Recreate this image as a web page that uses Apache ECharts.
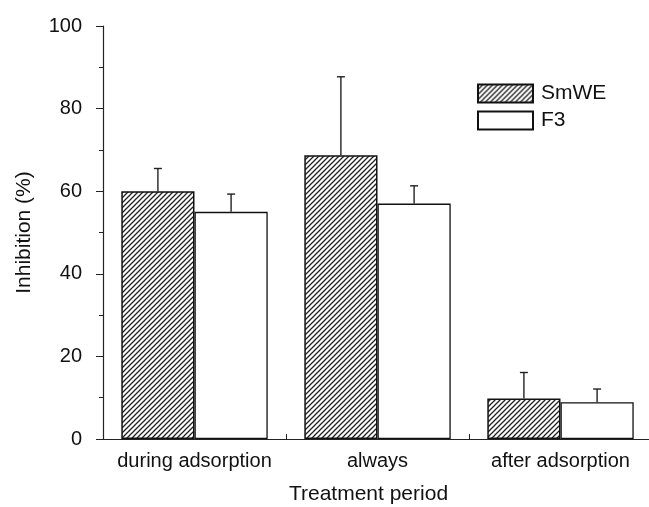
<!DOCTYPE html>
<html>
<head>
<meta charset="utf-8">
<script src="https://cdn.jsdelivr.net/npm/echarts@6/dist/echarts.min.js"></script>
<style>html,body{margin:0;padding:0;background:#fff}#c{width:649px;height:507px}</style>
</head>
<body>
<div id="c"></div>
<script>
var categories = ['during adsorption', 'always', 'after adsorption'];
var smweValues = [60, 68.7, 9.8];
var smweErrors = [5.5, 19, 6.3];
var f3Values = [55, 57, 8.9];
var f3Errors = [4.3, 4.3, 3.2];
var yTicks = [0, 20, 40, 60, 80, 100];

var pc = document.createElement('canvas');
pc.width = 5; pc.height = 5;
var g = pc.getContext('2d');
g.fillStyle = '#fff'; g.fillRect(0, 0, 5, 5);
g.strokeStyle = '#222'; g.lineWidth = 1.3;
g.beginPath();
g.moveTo(-1, 6); g.lineTo(6, -1);
g.moveTo(-1, 1); g.lineTo(1, -1);
g.moveTo(4, 6); g.lineTo(6, 4);
g.stroke();

var FONT = 'Liberation Sans, Arial, Helvetica, sans-serif';

function errSeries(vals, errs, sign) {
  return {
    type: 'custom',
    data: vals.map(function (v, i) { return [i, v, v + errs[i]]; }),
    z: 1,
    renderItem: function (params, api) {
      var i = api.value(0);
      var w = api.size([1, 0])[0];
      var off = sign * 0.2 * w;
      var p0 = api.coord([i, api.value(1)]);
      var p1 = api.coord([i, api.value(2)]);
      var x = p0[0] + off;
      var st = { stroke: '#222', lineWidth: 1.4 };
      return {
        type: 'group',
        children: [
          { type: 'line', shape: { x1: x, y1: p0[1], x2: x, y2: p1[1] }, style: st },
          { type: 'line', shape: { x1: x - 4, y1: p1[1], x2: x + 4, y2: p1[1] }, style: st }
        ]
      };
    }
  };
}

var chart = echarts.init(document.getElementById('c'));
chart.setOption({
  animation: false,
  backgroundColor: '#fff',
  grid: { left: 103, top: 26, right: -3, bottom: 68, containLabel: false, outerBoundsMode: 'none' },
  legend: {
    orient: 'vertical', left: 477, top: 83, itemWidth: 55, itemHeight: 18, itemGap: 6,
    padding: 0,
    icon: 'rect',
    data: ['SmWE', 'F3'],
    textStyle: { fontFamily: FONT, fontSize: 21, color: '#111', padding: [0, 0, 0, 3] }
  },
  xAxis: {
    type: 'category', data: categories,
    name: 'Treatment period', nameLocation: 'middle', nameGap: 45,
    nameTextStyle: { fontFamily: FONT, fontSize: 21, color: '#111', padding: [0, 18, 0, 0] },
    axisLine: { lineStyle: { color: '#222', width: 1.2 } },
    axisTick: { show: true, inside: true, length: 5, interval: 0, lineStyle: { color: '#222' } },
    axisLabel: { fontFamily: FONT, fontSize: 20, color: '#111', margin: 12, interval: 0, hideOverlap: false }
  },
  yAxis: {
    type: 'value', min: 0, max: 100, interval: 20,
    name: 'Inhibition (%)', nameLocation: 'middle', nameGap: 68,
    nameTextStyle: { fontFamily: FONT, fontSize: 21, color: '#111' },
    axisLine: { show: true, lineStyle: { color: '#222', width: 1.2 } },
    axisTick: { show: true, inside: false, length: 7, lineStyle: { color: '#222' } },
    minorTick: { show: true, splitNumber: 2, length: 4, lineStyle: { color: '#222' } },
    splitLine: { show: false },
    axisLabel: { fontFamily: FONT, fontSize: 20, color: '#111', margin: 21 }
  },
  series: [
    {
      name: 'SmWE', type: 'bar', data: smweValues, barGap: '0%', barCategoryGap: '20%', z: 2,
      itemStyle: { color: { image: pc, repeat: 'repeat' }, borderColor: '#111', borderWidth: 1.5 }
    },
    {
      name: 'F3', type: 'bar', data: f3Values, z: 2,
      itemStyle: { color: '#fff', borderColor: '#111', borderWidth: 1.3 }
    },
    errSeries(smweValues, smweErrors, -1),
    errSeries(f3Values, f3Errors, 1)
  ]
});
</script>
</body>
</html>
